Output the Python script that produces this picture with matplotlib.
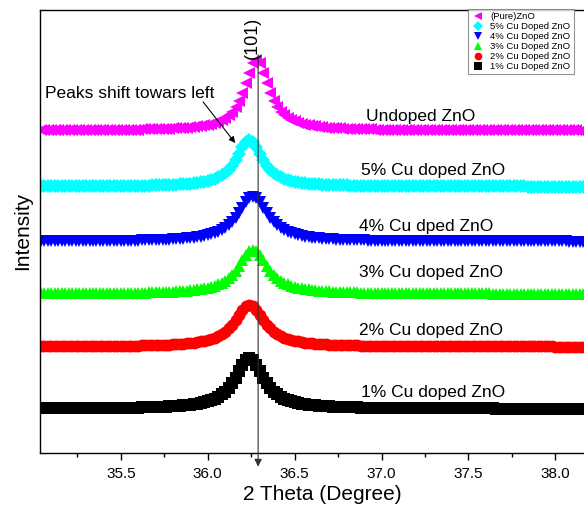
import numpy as np
import matplotlib
matplotlib.use("Agg")
import matplotlib.pyplot as plt
from matplotlib.lines import Line2D

plt.rcParams['font.family'] = ['Liberation Sans', 'DejaVu Sans']

# 2-theta scan, 0.02 deg step
two_theta = np.round(np.linspace(35.04, 38.20, 159), 2)

# intensities above each pattern's own background (a.u.)
i_cu1 = [0.4, 0.4, 0.4, 0.4, 0.4, 0.4, 0.4, 0.4, 0.5, 0.5, 0.5, 0.5, 0.5, 0.6, 0.6, 0.6, 0.6,
         0.7, 0.7, 0.7, 0.8, 0.8, 0.9, 0.9, 1.0, 1.0, 1.1, 1.1,
         1.2, 1.3, 1.4, 1.5, 1.6, 1.7, 1.8, 2.0, 2.1, 2.3, 2.5, 2.7, 3.0, 3.3, 3.7, 4.1, 4.5, 5.1, 5.8, 6.6,
         7.5, 8.7, 10.2, 12.0, 14.3, 17.2, 20.9, 25.5, 31.1, 37.5, 44.0, 49.0, 51.0,
         49.0, 44.0, 37.5, 31.1, 25.5, 20.9, 17.2, 14.3, 12.0, 10.2,
         8.7, 7.5, 6.6, 5.8, 5.1, 4.5, 4.1, 3.7, 3.3, 3.0,
         2.7, 2.5, 2.3, 2.1, 2.0, 1.8, 1.7, 1.6, 1.5, 1.4,
         1.3, 1.2, 1.1, 1.1, 1.0, 1.0, 0.9, 0.9, 0.8, 0.8,
         0.7, 0.7, 0.7, 0.6, 0.6, 0.6, 0.6, 0.5, 0.5, 0.5,
         0.5, 0.5, 0.4, 0.4, 0.4, 0.4, 0.4, 0.4, 0.4, 0.4,
         0.3, 0.3, 0.3, 0.3, 0.3, 0.3, 0.3, 0.3, 0.3, 0.3,
         0.2, 0.2, 0.2, 0.2, 0.2, 0.2, 0.2, 0.2, 0.2, 0.2,
         0.2, 0.2, 0.2, 0.2, 0.2, 0.2, 0.2, 0.2, 0.2, 0.2,
         0.2, 0.1, 0.1, 0.1, 0.1, 0.1, 0.1, 0.1]
i_cu2 = [0.3, 0.3, 0.3, 0.3, 0.4, 0.4, 0.4, 0.4, 0.4, 0.4, 0.5, 0.5, 0.5, 0.5, 0.5,
         0.6, 0.6, 0.6, 0.6, 0.7, 0.7, 0.7, 0.8, 0.8, 0.9, 0.9, 1.0, 1.0, 1.1, 1.2, 1.2,
         1.3, 1.4, 1.5, 1.6, 1.8, 1.9, 2.1, 2.3, 2.5, 2.7, 3.0, 3.3, 3.7, 4.1, 4.6, 5.2, 5.9,
         6.7, 7.8, 9.1, 10.7, 12.6, 15.1, 18.2, 22.0, 26.6, 31.7, 36.7, 40.5, 42.0,
         40.5, 36.7, 31.7, 26.6, 22.0, 18.2, 15.1, 12.6, 10.7, 9.1,
         7.8, 6.7, 5.9, 5.2, 4.6, 4.1, 3.7, 3.3, 3.0, 2.7,
         2.5, 2.3, 2.1, 1.9, 1.8, 1.6, 1.5, 1.4, 1.3, 1.2,
         1.2, 1.1, 1.0, 1.0, 0.9, 0.9, 0.8, 0.8, 0.7, 0.7,
         0.7, 0.6, 0.6, 0.6, 0.6, 0.5, 0.5, 0.5, 0.5, 0.5,
         0.4, 0.4, 0.4, 0.4, 0.4, 0.4, 0.3, 0.3, 0.3, 0.3,
         0.3, 0.3, 0.3, 0.3, 0.3, 0.3, 0.3, 0.2, 0.2, 0.2,
         0.2, 0.2, 0.2, 0.2, 0.2, 0.2, 0.2, 0.2, 0.2, 0.2,
         0.2, 0.2, 0.2, 0.2, 0.2, 0.2, 0.2, 0.1, 0.1, 0.1,
         0.1, 0.1, 0.1, 0.1, 0.1, 0.1, 0.1, 0.1]
i_cu3 = [0.3, 0.3, 0.4, 0.4, 0.4, 0.4, 0.4, 0.4, 0.4, 0.4, 0.5, 0.5, 0.5, 0.5, 0.5,
         0.6, 0.6, 0.6, 0.6, 0.7, 0.7, 0.7, 0.8, 0.8, 0.9, 0.9, 1.0, 1.0, 1.1, 1.2, 1.2, 1.3,
         1.4, 1.5, 1.6, 1.7, 1.9, 2.0, 2.2, 2.4, 2.6, 2.8, 3.1, 3.4, 3.8, 4.3, 4.8, 5.4, 6.2,
         7.1, 8.2, 9.5, 11.2, 13.2, 15.8, 19.1, 23.1, 27.8, 33.2, 38.4, 42.4, 44.0,
         42.4, 38.4, 33.2, 27.8, 23.1, 19.1, 15.8, 13.2, 11.2, 9.5,
         8.2, 7.1, 6.2, 5.4, 4.8, 4.3, 3.8, 3.4, 3.1, 2.8,
         2.6, 2.4, 2.2, 2.0, 1.9, 1.7, 1.6, 1.5, 1.4, 1.3,
         1.2, 1.2, 1.1, 1.0, 1.0, 0.9, 0.9, 0.8, 0.8, 0.7,
         0.7, 0.7, 0.6, 0.6, 0.6, 0.6, 0.5, 0.5, 0.5, 0.5,
         0.5, 0.4, 0.4, 0.4, 0.4, 0.4, 0.4, 0.4, 0.4, 0.3,
         0.3, 0.3, 0.3, 0.3, 0.3, 0.3, 0.3, 0.3, 0.2, 0.2,
         0.2, 0.2, 0.2, 0.2, 0.2, 0.2, 0.2, 0.2, 0.2, 0.2,
         0.2, 0.2, 0.2, 0.2, 0.2, 0.2, 0.2, 0.2, 0.2, 0.1,
         0.1, 0.1, 0.1, 0.1, 0.1, 0.1, 0.1]
i_cu4 = [0.3, 0.3, 0.4, 0.4, 0.4, 0.4, 0.4, 0.4, 0.4, 0.5, 0.5, 0.5, 0.5, 0.5,
         0.6, 0.6, 0.6, 0.6, 0.7, 0.7, 0.7, 0.8, 0.8, 0.8, 0.9, 0.9, 1.0, 1.0, 1.1, 1.2, 1.3, 1.3,
         1.4, 1.5, 1.6, 1.8, 1.9, 2.1, 2.2, 2.4, 2.6, 2.9, 3.2, 3.5, 3.9, 4.4, 4.9, 5.5, 6.3,
         7.2, 8.3, 9.7, 11.4, 13.5, 16.2, 19.5, 23.6, 28.5, 33.9, 39.3, 43.4, 45.0,
         43.4, 39.3, 33.9, 28.5, 23.6, 19.5, 16.2, 13.5, 11.4, 9.7,
         8.3, 7.2, 6.3, 5.5, 4.9, 4.4, 3.9, 3.5, 3.2, 2.9,
         2.6, 2.4, 2.2, 2.1, 1.9, 1.8, 1.6, 1.5, 1.4, 1.3,
         1.3, 1.2, 1.1, 1.0, 1.0, 0.9, 0.9, 0.8, 0.8, 0.8,
         0.7, 0.7, 0.7, 0.6, 0.6, 0.6, 0.6, 0.5, 0.5, 0.5,
         0.5, 0.5, 0.4, 0.4, 0.4, 0.4, 0.4, 0.4, 0.4, 0.3,
         0.3, 0.3, 0.3, 0.3, 0.3, 0.3, 0.3, 0.3, 0.3, 0.3,
         0.2, 0.2, 0.2, 0.2, 0.2, 0.2, 0.2, 0.2, 0.2, 0.2,
         0.2, 0.2, 0.2, 0.2, 0.2, 0.2, 0.2, 0.2, 0.2, 0.2,
         0.1, 0.1, 0.1, 0.1, 0.1, 0.1, 0.1]
i_cu5 = [0.3, 0.3, 0.3, 0.3, 0.3, 0.3, 0.3, 0.3, 0.3, 0.4, 0.4, 0.4, 0.4, 0.4, 0.4,
         0.5, 0.5, 0.5, 0.5, 0.6, 0.6, 0.6, 0.7, 0.7, 0.7, 0.8, 0.8, 0.9, 0.9, 1.0, 1.0,
         1.1, 1.2, 1.3, 1.4, 1.5, 1.6, 1.7, 1.9, 2.1, 2.3, 2.5, 2.8, 3.1, 3.4, 3.9, 4.4, 5.0,
         5.8, 6.7, 7.9, 9.4, 11.3, 13.8, 16.9, 21.0, 26.3, 32.6, 39.3, 44.8, 47.0,
         44.8, 39.3, 32.6, 26.3, 21.0, 16.9, 13.8, 11.3, 9.4, 7.9,
         6.7, 5.8, 5.0, 4.4, 3.9, 3.4, 3.1, 2.8, 2.5, 2.3,
         2.1, 1.9, 1.7, 1.6, 1.5, 1.4, 1.3, 1.2, 1.1, 1.0,
         1.0, 0.9, 0.9, 0.8, 0.8, 0.7, 0.7, 0.7, 0.6, 0.6,
         0.6, 0.5, 0.5, 0.5, 0.5, 0.4, 0.4, 0.4, 0.4, 0.4,
         0.4, 0.3, 0.3, 0.3, 0.3, 0.3, 0.3, 0.3, 0.3, 0.3,
         0.3, 0.2, 0.2, 0.2, 0.2, 0.2, 0.2, 0.2, 0.2, 0.2,
         0.2, 0.2, 0.2, 0.2, 0.2, 0.2, 0.2, 0.2, 0.2, 0.1,
         0.1, 0.1, 0.1, 0.1, 0.1, 0.1, 0.1, 0.1, 0.1, 0.1,
         0.1, 0.1, 0.1, 0.1, 0.1, 0.1, 0.1, 0.1]
i_pure = [0.3, 0.3, 0.4, 0.4, 0.4, 0.4, 0.4, 0.4, 0.4, 0.5, 0.5, 0.5, 0.5, 0.5,
          0.6, 0.6, 0.6, 0.6, 0.7, 0.7, 0.7,
          0.8, 0.8, 0.8, 0.9, 0.9, 1.0, 1.0, 1.1, 1.2, 1.2, 1.3, 1.4,
          1.5, 1.6, 1.7, 1.8, 2.0, 2.2, 2.3, 2.6, 2.8, 3.1, 3.4, 3.7, 4.2, 4.7, 5.3, 6.0, 6.9,
          7.9, 9.2, 10.9, 12.9, 15.6, 19.1, 23.7, 29.8, 37.7, 47.4, 58.1, 67.3, 71.0,
          67.3, 58.1, 47.4, 37.7, 29.8, 23.7, 19.1, 15.6, 12.9, 10.9,
          9.2, 7.9, 6.9, 6.0, 5.3, 4.7, 4.2, 3.7, 3.4, 3.1,
          2.8, 2.6, 2.3, 2.2, 2.0, 1.8, 1.7, 1.6, 1.5, 1.4,
          1.3, 1.2, 1.2, 1.1, 1.0, 1.0, 0.9, 0.9, 0.8, 0.8,
          0.8, 0.7, 0.7, 0.7, 0.6, 0.6, 0.6, 0.6, 0.5, 0.5,
          0.5, 0.5, 0.5, 0.4, 0.4, 0.4, 0.4, 0.4, 0.4, 0.4,
          0.3, 0.3, 0.3, 0.3, 0.3, 0.3, 0.3, 0.3, 0.3, 0.3,
          0.3, 0.2, 0.2, 0.2, 0.2, 0.2, 0.2, 0.2, 0.2, 0.2,
          0.2, 0.2, 0.2, 0.2, 0.2, 0.2, 0.2, 0.2, 0.2, 0.2,
          0.2, 0.2, 0.1, 0.1, 0.1, 0.1]

# bottom to top
patterns = [i_cu1, i_cu2, i_cu3, i_cu4, i_cu5, i_pure]
offsets = [44, 106, 159, 211, 266, 322]
legend_labels = ['1% Cu Doped ZnO', '2% Cu Doped ZnO', '3% Cu Doped ZnO',
                 '4% Cu Doped ZnO', '5% Cu Doped ZnO', '(Pure)ZnO']
curve_labels = ['1% Cu doped ZnO', '2% Cu doped ZnO', '3% Cu doped ZnO',
                '4% Cu dped ZnO', '5% Cu doped ZnO', 'Undoped ZnO']
colors = ['#000000', '#ff0000', '#00ff00', '#0000ff', '#00ffff', '#ff00ff']
markers = ['s', 'o', '^', 'v', 'D', '<']
sizes = [8.5, 8.5, 8.5, 8.5, 7.0, 8.5]
label_pos = [(36.88, 60.7), (36.87, 122.7), (36.87, 180.7), (36.87, 226.7), (36.88, 282.0), (36.91, 336.7)]

fig = plt.figure(figsize=(5.84, 5.11), dpi=100)
ax = fig.add_axes([40 / 584, 1 - 452.7 / 511, 564 / 584, 442.7 / 511])

for y, off, c, m, ms in zip(patterns, offsets, colors, markers, sizes):
    ax.plot(two_theta, np.array(y) + off, linestyle='none', marker=m, ms=ms,
            color=c, mew=0)

for (tx, ty), s in zip(label_pos, curve_labels):
    ax.text(tx, ty, s, fontsize=12.5, ha='left', va='center')

# (101) guide line down to the axis
ax.annotate('', xy=(36.29, -14), xytext=(36.29, 398), annotation_clip=False,
            arrowprops=dict(arrowstyle='-|>', color='#333333', lw=0.8,
                            mutation_scale=11, shrinkA=0, shrinkB=0))
ax.text(36.257, 415, '(101)', rotation=90, fontsize=13, ha='center', va='center')

ax.text(35.064, 359.7, 'Peaks shift towars left', fontsize=12.5, ha='left', va='center')
ax.annotate('', xy=(36.158, 309.7), xytext=(35.974, 350.7),
            arrowprops=dict(arrowstyle='-|>', color='black', lw=0.8,
                            mutation_scale=9, shrinkA=0, shrinkB=0))

ax.set_xlim(35.035, 38.28)
ax.set_ylim(0, 442.7)
ax.set_xticks([35.5, 36.0, 36.5, 37.0, 37.5, 38.0])
ax.set_xticks(np.arange(35.25, 38.3, 0.5), minor=True)
ax.set_xticklabels(['35.5', '36.0', '36.5', '37.0', '37.5', '38.0'])
ax.set_yticks([])
ax.tick_params(axis='x', which='major', direction='out', length=5, width=1, labelsize=11, pad=5.5)
ax.tick_params(axis='x', which='minor', direction='out', length=3.2, width=1)
for sp in ax.spines.values():
    sp.set_linewidth(1)
ax.set_xlabel('2 Theta (Degree)', fontsize=15, labelpad=3)
ax.set_ylabel('Intensity', fontsize=15, labelpad=6)

handles = [Line2D([], [], linestyle='none', marker=m, color=c, mew=0, ms=5.5)
           for m, c in zip(markers, colors)][::-1]
leg = ax.legend(handles, legend_labels[::-1], loc='upper right',
                bbox_to_anchor=(574 / 584, 1 - 9 / 511), bbox_transform=fig.transFigure,
                fontsize=6.8, frameon=True, fancybox=False, edgecolor='#777777',
                handlelength=1.4, handletextpad=0.6, labelspacing=0.1,
                borderpad=0.35, borderaxespad=0)
leg.get_frame().set_linewidth(0.8)

fig.savefig('out.png', dpi=100)
